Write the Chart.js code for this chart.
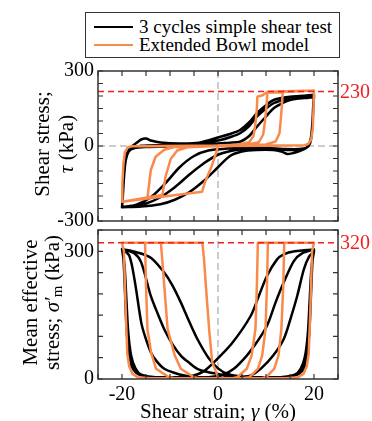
<!DOCTYPE html>
<html>
<head>
<meta charset="utf-8">
<script src="https://cdn.jsdelivr.net/npm/chart.js@4.4.1/dist/chart.umd.min.js"></script>
<style>
  body { margin: 0; background: #fff; }
  #wrap { position: relative; width: 372px; height: 421px; font-family: "Liberation Serif", "Times New Roman", serif; }
  canvas { position: absolute; left: 0; }
  #legend { position: absolute; left: 85px; top: 12px; width: 253px; height: 44px; border: 1.4px solid #333; background: #fff; z-index: 2; }
  .row { position: absolute; left: 8px; height: 18px; display: flex; align-items: center; font-size: 19px; line-height: 18px; color: #000; white-space: nowrap; }
  .swatch { width: 39px; height: 0; border-top: 2.5px solid; margin-right: 6px; }
</style>
</head>
<body>
<div id="wrap">
  <canvas id="tauChart" width="372" height="226" style="top:0"></canvas>
  <canvas id="sigChart" width="372" height="195" style="top:226px"></canvas>
  <div id="legend"></div>
</div>
<script>
// ==========================
// TICKS
// ==========================
const strainTicks = [-25, -20, -15, -10, -5, 0, 5, 10, 15, 20, 25];
const strainLabels = [-20, 0, 20];
const tauTicks = [-300, -250, -200, -150, -100, -50, 0, 50, 100, 150, 200, 250, 300];
const tauLabels = [-300, 0, 300];
const sigmaTicks = [0, 50, 100, 150, 200, 250, 300, 350];
const sigmaLabels = [0, 300];

// reference lines (value drawn, text shown)
const tauRefValue = 218;
const tauRefText = "230";
const sigmaRefValue = 320;
const sigmaRefText = "320";

const seriesNames = ["3 cycles simple shear test", "Extended Bowl model"];
const seriesColors = ["#000000", "#fa8a4b"];

// ==========================
// TEST DATA: shear stress tau vs strain
// ==========================
const testTauUp1 = [[-20,-245],[-19.85,-200],[-19.7,-140],[-19.5,-85],[-19.2,-45],[-18.7,-18],[-18,-3],[-17,12],[-16,26],[-15,30],[-14,22],[-12,14],[-8,10],[-4,13],[0.5,37],[2.5,48],[4.6,64],[6.5,95],[8.1,131],[10,163],[11.6,184],[13.5,193],[15,197],[17,200],[18.9,203],[20,205]];
const testTauDown1 = [[20,205],[19.85,165],[19.7,105],[19.5,55],[19.2,18],[18.5,-6],[17,-20],[15.5,-29],[14.4,-32],[13.2,-22],[11.5,-16],[8,-16],[5,-22],[2.5,-40],[0,-85],[-3,-140],[-6,-185],[-9,-215],[-12,-233],[-16,-242],[-20,-245]];
const testTauUp2 = [[-20,-245],[-19.85,-205],[-19.7,-150],[-19.5,-95],[-19.2,-50],[-18.6,-20],[-17.5,-6],[-16,1],[-12,4],[-8,6],[-4,9],[0.5,24],[2.5,35],[4.6,51],[6.5,80],[8.1,117],[10,150],[11.6,171],[13.5,184],[15,191],[17,195],[18.9,198],[20,200]];
const testTauDown2 = [[20,200],[19.85,160],[19.7,100],[19.5,50],[19.2,15],[18.5,-6],[17,-14],[15,-16],[12,-12],[8,-10],[4,-15],[0,-35],[-3,-70],[-6,-115],[-9,-165],[-12,-205],[-15,-230],[-17.5,-240],[-20,-245]];
const testTauUp3 = [[-20,-245],[-19.85,-210],[-19.7,-160],[-19.5,-105],[-19.2,-55],[-18.6,-22],[-17.5,-9],[-15,-4],[-10,-2],[-5,3],[0.5,11],[2.5,13],[4.6,17],[6.5,40],[8.1,77],[10,118],[11.6,151],[13.5,172],[15,184],[17,190],[18.9,193],[20,196]];
const testTauDown3 = [[20,196],[19.85,155],[19.7,95],[19.5,45],[19.2,12],[18.5,-6],[17,-12],[14,-12],[10,-8],[6,-8],[2,-10],[-2,-18],[-5,-40],[-8,-85],[-11,-150],[-14,-205],[-17,-235],[-20,-245]];

// ==========================
// TEST DATA: mean effective stress vs strain
// ==========================
const testSigUp1 = [[-20,305],[-19.7,282],[-19.4,210],[-19.1,130],[-18.7,70],[-18.1,33],[-17,14],[-15,6],[-10,4],[-6,6],[-3,18],[-0.15,47],[3,85],[6.8,148],[8.5,195],[10.2,242],[12.3,281],[13.7,293],[16,300],[20,304]];
const testSigDown1 = [[20,304],[19.7,280],[19.4,205],[19.1,125],[18.7,65],[18.1,30],[17,13],[15,6],[10,4],[5,6],[2,12],[0,25],[-2,50],[-4.3,94],[-6,135],[-7.75,180],[-9.5,220],[-11.2,250],[-14,285],[-17,298],[-20,305]];
const testSigUp2 = [[-20,305],[-19.6,275],[-19.3,200],[-18.9,120],[-18.4,60],[-17.6,28],[-16.5,12],[-14,5],[-8,3],[-2,4],[1,10],[3.3,24],[6,55],[8,85],[10.2,125],[12,180],[13.7,227],[15.8,277],[17.5,295],[20,304]];
const testSigDown2 = [[20,304],[19.6,272],[19.3,195],[18.9,115],[18.4,58],[17.6,26],[16.5,11],[14,5],[8,3],[3,5],[0,12],[-2,16],[-4.3,24],[-6,38],[-7.75,55],[-9.5,82],[-11.2,117],[-12.8,160],[-14,195],[-16,274],[-17.4,295],[-20,305]];
const testSigUp3 = [[-20,305],[-19.5,270],[-19.1,190],[-18.7,110],[-18.1,55],[-17.2,25],[-16,10],[-13,4],[-6,2],[2,3],[5,5],[6.8,8],[9,25],[11.5,55],[13.7,94],[15.2,145],[16.5,195],[17.9,258],[19,288],[20,300]];
const testSigDown3 = [[20,300],[19.5,265],[19.1,185],[18.7,105],[18.1,52],[17.2,24],[16,10],[13,4],[6,2],[-2,3],[-5,5],[-7,8],[-9,14],[-11.2,24],[-12.8,42],[-14,63],[-15.2,100],[-16,133],[-17.4,234],[-18.5,290],[-20,305]];

// ==========================
// MODEL DATA: shear stress tau vs strain
// ==========================
const modelTauStart = [[0,0],[-0.6,-40],[-1.4,-85],[-2.3,-125],[-2.9,-155],[-3.3,-183],[-20,-223]];
const modelTauUp1 = [[-20,-223],[-19.85,-150],[-19.7,-70],[-19.4,-25],[-18.8,-6],[-18,-1],[-10,0],[0,2],[4,5],[6.5,15],[7.4,40],[7.8,90],[8.1,150],[8.2,197],[9.3,203],[10,213],[20,222]];
const modelTauDown1 = [[20,222],[19.9,150],[19.75,70],[19.4,25],[18.8,8],[18,3],[10,1],[0,0],[-6.4,-5],[-8.5,-18],[-9.85,-52],[-10.9,-120],[-11.6,-196],[-20,-223]];
const modelTauUp2 = [[-20,-223],[-19.85,-150],[-19.7,-70],[-19.4,-25],[-18.8,-6],[-18,-1],[0,2],[6,5],[8.5,15],[9.4,45],[9.8,100],[10.1,160],[10.3,217],[20,222]];
const modelTauDown2 = [[20,222],[19.9,150],[19.75,70],[19.4,25],[18.8,8],[18,3],[0,0],[-9.1,-4],[-11.2,-15],[-13,-43],[-14,-96],[-14.7,-209],[-20,-223]];
const modelTauUp3 = [[-20,-223],[-19.85,-150],[-19.7,-70],[-19.4,-25],[-18.8,-6],[-18,-1],[0,2],[10,6],[12,18],[12.8,50],[13.1,110],[13.3,160],[13.5,218],[20,222]];

// ==========================
// MODEL DATA: mean effective stress vs strain
// ==========================
const modelSigStart = [[0,3],[-0.1,8],[-1.2,39],[-1.8,110],[-2.4,200],[-2.9,280],[-3.25,320],[-20,320]];
const modelSigUp1 = [[-20,320],[-19.6,300],[-19.2,150],[-18.9,60],[-18.5,30],[-17.8,12],[-16.7,4],[-14,2],[3,2],[4,4],[6,24],[7,55],[7.8,117],[8.1,220],[8.3,320],[20,320]];
const modelSigDown1 = [[20,320],[19.6,300],[19.2,150],[18.9,60],[18.5,30],[17.8,12],[16.7,4],[14,2],[-4,2],[-5,4],[-7.75,24],[-9,55],[-10.5,117],[-11.2,220],[-11.9,320],[-20,320]];
const modelSigUp2 = [[-20,320],[-19.6,300],[-19.2,150],[-18.9,60],[-18.5,30],[-17.8,12],[-16.7,4],[-14,2],[5,2],[6.5,4],[8.3,24],[9.2,55],[9.9,117],[10.2,220],[10.4,320],[20,320]];
const modelSigDown2 = [[20,320],[19.6,300],[19.2,150],[18.9,60],[18.5,30],[17.8,12],[16.7,4],[14,2],[-9,2],[-10.2,4],[-12.9,24],[-13.9,60],[-14.7,117],[-15,220],[-15.2,320],[-20,320]];
const modelSigUp3 = [[-20,320],[-19.6,300],[-19.2,150],[-18.9,60],[-18.5,30],[-17.8,12],[-16.7,4],[-14,2],[9,2],[10,4],[11.7,24],[12.6,55],[13.2,117],[13.6,220],[13.8,320],[20,320]];

// ==========================
// HELPERS
// ==========================
const serif = '"Liberation Serif", "Times New Roman", serif';

function toPoints(...branches) {
    return branches.flat().map(p => ({ x: p[0], y: p[1] }));
}

function drawTextLine(ctx, cx, cy, segs, rotate) {
    ctx.save();
    ctx.translate(cx, cy);
    if (rotate) ctx.rotate(-Math.PI / 2);
    let total = 0;
    segs.forEach(s => { ctx.font = s.font; total += ctx.measureText(s.text).width; });
    let x = -total / 2;
    ctx.textBaseline = "middle";
    ctx.textAlign = "left";
    segs.forEach(s => {
        ctx.font = s.font;
        ctx.fillStyle = s.color || "#000";
        ctx.fillText(s.text, x, s.dy || 0);
        x += ctx.measureText(s.text).width;
    });
    ctx.restore();
}

// frame, inward ticks, dashed reference lines, labels
const framePlugin = {
    id: "frame",
    beforeDatasetsDraw(chart, args, opts) {
        const { ctx, chartArea: a, scales: { x, y } } = chart;
        ctx.save();
        ctx.lineWidth = 1;
        ctx.strokeStyle = "#9a9a9a";
        ctx.setLineDash([7, 4]);
        const x0 = x.getPixelForValue(0);
        ctx.beginPath();
        ctx.moveTo(x0, a.top);
        ctx.lineTo(x0, a.bottom);
        if (opts.zeroLine) {
            const y0 = y.getPixelForValue(0);
            ctx.moveTo(a.left, y0);
            ctx.lineTo(a.right, y0);
        }
        ctx.stroke();
        ctx.restore();
    },
    afterDatasetsDraw(chart, args, opts) {
        const { ctx, chartArea: a, scales: { x, y } } = chart;
        ctx.save();
        // red reference line
        const yr = y.getPixelForValue(opts.refValue);
        ctx.strokeStyle = "#f01e1e";
        ctx.lineWidth = 1.6;
        ctx.setLineDash([6, 4]);
        ctx.beginPath();
        ctx.moveTo(a.left, yr);
        ctx.lineTo(a.right, yr);
        ctx.stroke();
        ctx.setLineDash([]);
        ctx.fillStyle = "#f01e1e";
        ctx.font = "20px " + serif;
        ctx.textBaseline = "middle";
        ctx.fillText(opts.refText, a.right + 2, yr + 1);

        // box
        ctx.strokeStyle = "#333";
        ctx.lineWidth = 1.5;
        ctx.strokeRect(a.left, a.top, a.right - a.left, a.bottom - a.top);

        // inward ticks
        const tl = 5;
        ctx.lineWidth = 1.2;
        ctx.beginPath();
        strainTicks.forEach(v => {
            const px = x.getPixelForValue(v);
            ctx.moveTo(px, a.bottom); ctx.lineTo(px, a.bottom - tl);
            ctx.moveTo(px, a.top); ctx.lineTo(px, a.top + tl);
        });
        opts.yTicks.forEach(v => {
            const py = y.getPixelForValue(v);
            ctx.moveTo(a.left, py); ctx.lineTo(a.left + tl, py);
            ctx.moveTo(a.right, py); ctx.lineTo(a.right - tl, py);
        });
        ctx.stroke();
        ctx.restore();

        // axis titles
        const cy = (a.top + a.bottom) / 2 - 2;
        opts.yTitle.forEach(line => drawTextLine(ctx, line.x, cy, line.segs, true));
        if (opts.xTitle) drawTextLine(ctx, (a.left + a.right) / 2, opts.xTitle.y, opts.xTitle.segs, false);
    }
};

function noPad(s) {
    s.paddingTop = 0;
    s.paddingBottom = 0;
    s.paddingLeft = 0;
    s.paddingRight = 0;
}

function yScale(min, max, ticks, labels) {
    return {
        type: "linear",
        min: min,
        max: max,
        afterFit: s => { s.width = 98; noPad(s); },
        afterBuildTicks: s => { s.ticks = ticks.map(v => ({ value: v })); },
        grid: { display: false, drawTicks: false },
        border: { display: false },
        ticks: {
            padding: 4,
            autoSkip: false,
            color: "#000",
            font: { family: serif, size: 20 },
            callback: v => labels.includes(v) ? String(v) : ""
        }
    };
}

function lineSet(i, points, tension) {
    return {
        label: seriesNames[i],
        data: points,
        showLine: true,
        borderColor: seriesColors[i],
        borderWidth: 2.5,
        pointRadius: 0,
        tension: tension,
        borderJoinStyle: "round",
        borderCapStyle: "round",
        order: i === 0 ? 1 : 0
    };
}

// ==========================
// LEGEND
// ==========================
const legendEl = document.getElementById("legend");
seriesNames.forEach((name, i) => {
    const row = document.createElement("div");
    row.className = "row";
    row.style.top = (5 + i * 18) + "px";
    row.innerHTML = '<span class="swatch" style="border-color:' + seriesColors[i] + '"></span><span>' + name + '</span>';
    legendEl.appendChild(row);
});

// ==========================
// TOP CHART: tau
// ==========================
const italic = "italic 21px " + serif;
const plain = "21px " + serif;

new Chart(document.getElementById("tauChart"), {
    type: "scatter",
    data: {
        datasets: [
            lineSet(0, toPoints(testTauUp1, testTauDown1, testTauUp2, testTauDown2, testTauUp3, testTauDown3), 0.3),
            lineSet(1, toPoints(modelTauStart, modelTauUp1, modelTauDown1, modelTauUp2, modelTauDown2, modelTauUp3), 0)
        ]
    },
    options: {
        responsive: false,
        animation: false,
        devicePixelRatio: 1,
        layout: { padding: { left: 0, top: 71, right: 34, bottom: 5 } },
        plugins: {
            legend: { display: false },
            tooltip: { enabled: false },
            frame: {
                zeroLine: true,
                refValue: tauRefValue,
                refText: tauRefText,
                yTicks: tauTicks,
                yTitle: [
                    { x: 43, segs: [{ text: "Shear stress;", font: plain }] },
                    { x: 67, segs: [{ text: "\u03C4", font: italic }, { text: " (kPa)", font: plain }] }
                ]
            }
        },
        scales: {
            x: { type: "linear", min: -25, max: 25, display: false },
            y: yScale(-300, 300, tauTicks, tauLabels)
        }
    },
    plugins: [framePlugin]
});

// ==========================
// BOTTOM CHART: mean effective stress
// ==========================
new Chart(document.getElementById("sigChart"), {
    type: "scatter",
    data: {
        datasets: [
            lineSet(0, toPoints(testSigUp1, testSigDown1, testSigUp2, testSigDown2, testSigUp3, testSigDown3), 0.3),
            lineSet(1, toPoints(modelSigStart, modelSigUp1, modelSigDown1, modelSigUp2, modelSigDown2, modelSigUp3), 0)
        ]
    },
    options: {
        responsive: false,
        animation: false,
        devicePixelRatio: 1,
        layout: { padding: { left: 0, top: 4, right: 34, bottom: 0 } },
        plugins: {
            legend: { display: false },
            tooltip: { enabled: false },
            frame: {
                zeroLine: false,
                refValue: sigmaRefValue,
                refText: sigmaRefText,
                yTicks: sigmaTicks,
                yTitle: [
                    { x: 31, segs: [{ text: "Mean effective", font: plain }] },
                    { x: 53, segs: [
                        { text: "stress; ", font: plain },
                        { text: "\u03C3\u2032", font: italic },
                        { text: "m", font: "15px " + serif, dy: 5 },
                        { text: " (kPa)", font: plain }
                    ] }
                ],
                xTitle: {
                    y: 186,
                    segs: [
                        { text: "Shear strain; ", font: plain },
                        { text: "\u03B3", font: italic },
                        { text: " (%)", font: plain }
                    ]
                }
            }
        },
        scales: {
            x: {
                type: "linear",
                min: -25,
                max: 25,
                afterFit: s => { s.height = 42; noPad(s); },
                afterBuildTicks: s => { s.ticks = strainTicks.map(v => ({ value: v })); },
                grid: { display: false, drawTicks: false },
                border: { display: false },
                ticks: {
                    padding: 4,
                    autoSkip: false,
                    maxRotation: 0,
                    color: "#000",
                    font: { family: serif, size: 20 },
                    callback: v => strainLabels.includes(v) ? String(v) : ""
                }
            },
            y: yScale(0, 350, sigmaTicks, sigmaLabels)
        }
    },
    plugins: [framePlugin]
});
</script>
</body>
</html>
